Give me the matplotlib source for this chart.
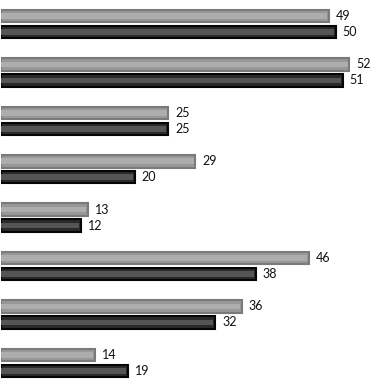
import numpy as np
import matplotlib.pyplot as plt

# values (top bar = light series, bottom bar = dark series)
light_vals = [49, 52, 25, 29, 13, 46, 36, 14]
dark_vals = [50, 51, 25, 20, 12, 38, 32, 19]

y = np.arange(len(light_vals))
off = 0.165
h = 0.26

fig = plt.figure(figsize=(3.7, 3.88), dpi=100)
ax = fig.add_axes([0.003, 0, 0.997, 1])

# light series: grey border, lighter centre band
ax.barh(y - off, light_vals, height=h, color='#989898', edgecolor='#7a7a7a', linewidth=1.5)
ax.barh(y - off, np.array(light_vals) - 0.25, height=h * 0.45, color='#adadad', linewidth=0)

# dark series: black border, dark grey centre band
ax.barh(y + off, dark_vals, height=h, color='#2a2a2a', edgecolor='#050505', linewidth=1.5)
ax.barh(y + off, np.array(dark_vals) - 0.3, height=h * 0.45, color='#555555', linewidth=0)

for yi, v in zip(y - off, light_vals):
    ax.text(v + 1.0, yi, str(v), va='center', ha='left', fontsize=9, family='Lato', color='#111111')
for yi, v in zip(y + off, dark_vals):
    ax.text(v + 1.0, yi, str(v), va='center', ha='left', fontsize=9, family='Lato', color='#111111')

ax.set_xlim(0, 55.1)
ax.set_ylim(7.52, -0.496)
ax.axis('off')

fig.savefig('out.png', dpi=100)
